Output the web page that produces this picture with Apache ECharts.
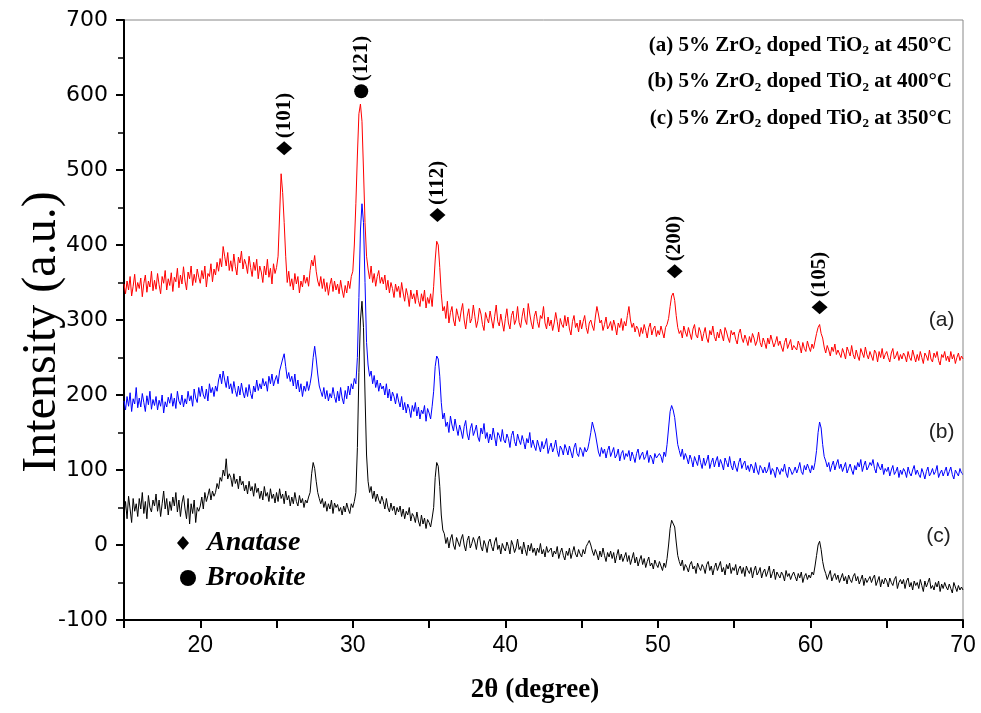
<!DOCTYPE html>
<html>
<head>
<meta charset="utf-8">
<script src="https://cdn.jsdelivr.net/npm/echarts@6/dist/echarts.min.js"></script>
<style>html,body{margin:0;padding:0;background:#fff;}#c{width:981px;height:713px;}</style>
</head>
<body>
<div id="c"></div>
<script>
// 2θ grid: 15.0 to 70.0 in 0.1° steps (one row of 10 values per degree)
const thetaStart = 15, thetaStep = 0.1;

// (a) 5% ZrO2 doped TiO2 at 450°C
const seriesA = [
348,335,352,340,358,332,345,361,338,350,
342,356,331,349,360,337,352,344,365,339,
353,341,362,347,335,358,349,366,340,355,
346,363,338,357,351,369,343,360,348,371,
352,340,364,355,372,346,361,350,368,357,
349,366,355,372,344,362,358,375,351,368,
360,377,365,382,371,398,385,372,390,366,
379,365,388,371,360,384,376,392,368,381,
374,362,385,370,358,377,366,381,355,372,
364,350,372,360,381,357,369,348,375,362,
370,385,440,495,470,430,385,350,365,345,
355,340,362,348,358,336,352,344,360,349,
357,345,366,380,372,386,365,352,345,358,
342,355,338,350,333,347,356,338,352,340,
348,335,353,340,330,346,336,352,342,358,
365,400,455,520,575,588,565,500,430,385,
368,355,372,350,362,345,358,366,349,357,
348,360,340,353,336,350,342,330,348,338,
345,330,350,336,325,342,333,318,340,328,
335,322,340,326,318,335,325,340,316,330,
322,335,318,345,380,405,400,370,335,312,
318,302,325,296,310,318,300,292,315,306,
298,312,322,300,288,305,315,296,302,320,
305,290,299,316,308,294,286,310,302,296,
312,300,289,305,320,298,292,308,296,285,
302,315,296,288,306,312,294,300,318,297,
290,305,316,300,294,322,308,296,288,305,
312,298,290,306,302,318,296,288,304,292,
300,286,296,310,298,284,302,294,290,306,
292,304,288,280,298,306,290,296,284,300,
288,298,306,290,282,296,300,292,286,304,
318,308,296,300,286,294,304,288,292,298,
286,300,292,280,296,290,302,286,298,292,
306,318,300,290,296,284,292,288,278,290,
282,294,286,276,290,296,280,288,292,278,
286,280,292,284,276,290,294,302,318,332,
336,326,306,290,282,286,276,292,284,278,
290,282,274,288,294,280,276,290,284,272,
282,290,276,270,286,280,292,278,272,284,
276,288,280,272,290,284,276,270,286,280,
284,274,268,282,288,276,270,280,274,266,
278,270,282,276,266,272,284,270,264,276,
270,262,276,268,280,272,264,270,278,266,
272,264,258,270,276,262,268,274,260,266,
268,260,272,266,256,270,262,258,272,264,
258,268,262,272,282,290,294,282,276,264,
256,266,260,252,264,258,268,254,260,262,
250,262,256,248,264,258,252,266,254,248,
260,252,246,262,256,250,264,254,248,258,
252,246,260,256,244,258,250,262,248,254,
258,250,244,256,262,248,252,258,246,254,
248,256,252,244,258,250,246,260,252,244,
254,246,258,250,242,256,252,246,260,248,
244,256,250,258,246,240,254,250,258,246,
252,244,258,248,254,242,250,256,246,252,
248
];

// (b) 5% ZrO2 doped TiO2 at 400°C
const seriesB = [
192,180,198,185,203,178,195,188,210,183,
196,184,202,190,178,199,187,205,181,194,
186,198,180,193,185,200,176,191,184,197,
189,202,185,196,182,205,192,187,200,184,
195,188,205,192,199,185,208,196,190,210,
198,212,200,195,208,192,215,203,210,198,
212,205,220,228,215,232,220,210,225,208,
215,202,218,206,198,212,200,216,204,196,
210,198,214,202,195,212,204,220,206,215,
208,222,212,218,205,225,215,228,212,220,
226,215,232,240,248,255,238,222,230,218,
225,212,228,208,220,204,215,198,212,205,
218,206,215,228,250,265,248,228,212,205,
198,210,195,206,192,202,196,210,198,190,
205,192,210,196,188,206,195,212,200,215,
208,222,215,250,330,420,455,430,350,270,
240,225,232,215,226,210,220,205,216,208,
212,200,215,196,208,192,204,198,188,202,
192,184,198,180,190,176,188,182,170,186,
178,190,172,184,168,180,175,186,165,182,
176,168,185,205,238,252,248,225,190,168,
176,158,164,150,172,160,152,168,156,146,
160,152,142,158,166,148,140,155,162,146,
152,160,144,138,156,148,162,142,150,136,
148,140,156,144,132,150,146,138,154,140,
136,148,142,130,146,152,138,132,148,140,
134,146,138,128,142,136,150,130,140,132,
126,140,132,124,138,128,134,142,122,130,
136,124,130,140,126,118,132,128,120,134,
128,120,132,124,116,130,136,122,118,130,
126,118,130,124,128,138,150,164,166,148,
136,124,118,130,122,128,116,126,132,118,
124,130,116,120,128,112,122,126,114,122,
118,126,112,124,118,110,122,128,114,120,
124,114,118,126,110,120,116,108,122,116,
114,122,118,110,124,118,134,156,178,186,
180,170,152,134,126,118,128,114,122,116,
108,120,114,104,118,112,106,120,110,102,
116,106,112,120,102,110,116,104,112,118,
104,114,108,100,116,110,104,118,106,100,
112,104,98,110,116,102,108,112,100,106,
98,108,104,96,110,100,94,106,102,96,
104,96,100,110,94,102,98,90,104,100,
94,102,98,108,96,90,104,100,94,98,
104,96,102,110,98,94,106,100,108,102,
96,106,100,110,126,150,164,156,134,118,
112,104,110,98,106,112,100,108,114,102,
108,98,104,110,96,102,108,100,94,106,
100,110,104,114,98,106,112,100,104,110,
106,114,102,96,110,104,100,108,94,102,
98,104,92,100,106,94,98,104,90,100,
94,102,98,90,104,96,92,100,106,94,
100,94,90,102,96,88,98,104,92,96,
102,94,98,106,90,96,100,92,98,104,
92,98,104,94,88,100,96,92,102,96,
94
];

// (c) 5% ZrO2 doped TiO2 at 350°C
const seriesC = [
40,58,35,65,48,30,62,45,55,38,
62,48,70,42,58,35,66,50,44,60,
52,68,45,60,38,55,72,48,62,40,
58,46,64,52,70,44,60,38,56,66,
48,35,62,28,55,42,60,30,50,45,
52,64,48,70,58,66,75,60,72,65,
70,82,75,90,85,100,92,115,88,95,
90,78,95,82,88,75,92,80,85,72,
80,68,85,72,78,65,82,70,76,62,
72,60,78,65,70,58,75,62,68,56,
70,58,75,62,68,55,72,60,66,52,
64,55,70,58,52,66,56,62,50,60,
56,64,70,95,110,102,85,70,62,55,
62,50,58,45,55,48,60,42,56,50,
54,45,50,40,52,44,56,48,42,55,
50,58,70,130,230,300,325,290,200,120,
85,70,78,62,72,58,68,60,55,65,
58,48,62,50,44,56,46,52,40,50,
44,52,38,48,35,45,40,50,32,42,
38,30,44,32,25,40,28,36,22,34,
30,24,36,50,90,110,105,78,40,20,
15,2,10,-4,8,14,0,-6,10,4,
-2,8,14,0,-8,6,12,-4,2,10,
4,-6,8,12,-2,-8,6,0,-10,4,
8,-2,-8,4,10,-6,0,-12,2,-4,
-8,4,-2,-12,6,0,-10,-4,8,-6,
-2,-12,4,-6,-14,0,-8,2,-10,-4,
-14,-4,-10,2,-12,-6,-16,-2,-10,-8,
-4,-16,-8,-12,-2,-18,-10,-4,-14,-20,
-8,-14,-4,-18,-10,-2,-12,-16,-6,-12,
-16,-6,-12,-2,2,6,0,-8,-14,-6,
-12,-20,-8,-16,-4,-14,-22,-10,-16,-8,
-18,-10,-24,-14,-6,-20,-12,-22,-16,-10,
-22,-14,-26,-18,-10,-24,-16,-28,-20,-14,
-26,-18,-30,-22,-16,-28,-24,-32,-20,-26,
-30,-22,-28,-34,-24,-30,-18,0,22,33,
34,24,4,-14,-22,-28,-20,-34,-26,-30,
-36,-26,-22,-32,-28,-38,-24,-30,-34,-26,
-30,-38,-26,-22,-34,-28,-40,-30,-24,-34,
-28,-22,-36,-30,-40,-26,-32,-24,-38,-30,
-34,-26,-40,-32,-28,-38,-30,-42,-28,-34,
-38,-30,-44,-34,-28,-40,-36,-30,-44,-36,
-32,-42,-36,-28,-44,-38,-32,-46,-36,-40,
-44,-36,-40,-48,-34,-42,-38,-46,-40,-36,
-42,-48,-38,-44,-36,-50,-42,-38,-46,-40,
-44,-36,-40,-28,-14,0,5,-6,-22,-32,
-38,-46,-40,-34,-48,-42,-38,-46,-40,-50,
-44,-38,-48,-42,-52,-40,-46,-50,-42,-38,
-48,-42,-52,-46,-40,-54,-44,-50,-46,-42,
-50,-44,-40,-54,-48,-42,-56,-46,-52,-44,
-48,-56,-44,-50,-54,-46,-42,-58,-50,-46,
-52,-46,-58,-48,-44,-56,-50,-60,-48,-54,
-50,-58,-46,-54,-62,-48,-56,-50,-44,-58,
-54,-60,-50,-56,-48,-62,-52,-58,-50,-56,
-60,-52,-58,-64,-50,-56,-62,-54,-60,-56,
-60
];

// Peak annotations
const peakTheta = [25.5, 30.55, 35.55, 51.1, 60.6];
const peakMarkY = [529, 605, 440, 365, 317];
const peakHkl = ['(101)', '(121)', '(112)', '(200)', '(105)'];
const peakPhase = ['Anatase', 'Brookite', 'Anatase', 'Anatase', 'Anatase'];

const yTicks = [-100, 0, 100, 200, 300, 400, 500, 600, 700];
const xTicks = [20, 30, 40, 50, 60, 70];

const legendLines = [
  '(a) 5% ZrO{s|2} doped TiO{s|2} at 450°C',
  '(b) 5% ZrO{s|2} doped TiO{s|2} at 400°C',
  '(c) 5% ZrO{s|2} doped TiO{s|2} at 350°C'
];
const curveTags = ['(a)', '(b)', '(c)'];
const curveTagPos = [[68.6, 300], [68.6, 150], [68.4, 12]];

const twoTheta = seriesA.map((_, i) => Math.round((thetaStart + i * thetaStep) * 10) / 10);
const pairs = arr => arr.map((v, i) => [twoTheta[i], v]);

const serif = "'Liberation Serif', 'Times New Roman', serif";

const peakData = peakTheta.map((t, i) => ({
  value: [t, peakMarkY[i]],
  symbol: peakPhase[i] === 'Anatase' ? 'diamond' : 'circle',
  symbolSize: peakPhase[i] === 'Anatase' ? [16, 14] : [14, 14],
  label: { formatter: peakHkl[i] }
}));

const chart = echarts.init(document.getElementById('c'), null, { renderer: 'canvas' });

const graphics = [];
legendLines.forEach((t, i) => {
  graphics.push({
    type: 'text', right: 29, top: 35 + i * 36.5, silent: true,
    style: {
      text: t, fill: '#000',
      font: "bold 21px " + serif,
      rich: { s: { fontSize: 13, fontWeight: 'bold', fontFamily: serif, padding: [11, 0, 0, 0] } }
    }
  });
});
// phase key (bottom-left)
graphics.push({ type: 'polygon', shape: { points: [[183, 536], [189, 543], [183, 550], [177, 543]] }, style: { fill: '#000' }, silent: true });
graphics.push({ type: 'circle', shape: { cx: 188, cy: 578, r: 8 }, style: { fill: '#000' }, silent: true });
graphics.push({ type: 'text', x: 207, y: 543, silent: true, style: { text: 'Anatase', font: "italic bold 28px " + serif, fill: '#000', verticalAlign: 'middle' } });
graphics.push({ type: 'text', x: 206, y: 578, silent: true, style: { text: 'Brookite', font: "italic bold 28px " + serif, fill: '#000', verticalAlign: 'middle' } });
// axis titles
graphics.push({ type: 'text', x: 535, y: 690, silent: true, style: { text: '2θ (degree)', font: "bold 27px " + serif, fill: '#000', align: 'center', verticalAlign: 'middle' } });
graphics.push({ type: 'text', x: 42, y: 332, rotation: Math.PI / 2, silent: true, style: { text: 'Intensity (a.u.)', font: "normal 48px " + serif, fill: '#000', align: 'center', verticalAlign: 'middle' } });

const lineSeries = (name, arr, color) => ({
  name, type: 'line', data: pairs(arr), showSymbol: false, symbol: 'none',
  lineStyle: { color, width: 1 }, animation: false, z: 2
});

chart.setOption({
  backgroundColor: '#fff',
  animation: false,
  grid: { left: 124, right: 18, top: 20, bottom: 93, show: true, borderColor: '#888', borderWidth: 1 },
  xAxis: {
    type: 'value', min: 15, max: 70, interval: 5,
    axisLine: { show: true, onZero: false, lineStyle: { color: '#000', width: 2 } },
    axisTick: { show: true, inside: false, length: 8, lineStyle: { color: '#000', width: 2 } },
    axisLabel: {
      margin: 14, color: '#000', fontSize: 23,
      fontFamily: "'Liberation Sans Narrow', 'Liberation Sans', Arial, sans-serif",
      formatter: v => (xTicks.indexOf(v) >= 0 ? String(v) : '')
    },
    splitLine: { show: false }
  },
  yAxis: {
    type: 'value', min: -100, max: 700, interval: 100,
    axisLine: { show: true, onZero: false, lineStyle: { color: '#000', width: 2 } },
    axisTick: { show: true, inside: false, length: 8, lineStyle: { color: '#000', width: 2 } },
    minorTick: { show: true, splitNumber: 2, length: 6, lineStyle: { color: '#000', width: 1.5 } },
    axisLabel: {
      margin: 16, color: '#000', fontSize: 22, fontFamily: "'DejaVu Sans', sans-serif",
      formatter: v => (yTicks.indexOf(v) >= 0 ? String(v) : '')
    },
    splitLine: { show: false }
  },
  series: [
    lineSeries('a', seriesA, '#ff0000'),
    lineSeries('b', seriesB, '#0000ff'),
    lineSeries('c', seriesC, '#000000'),
    {
      type: 'scatter', data: peakData, itemStyle: { color: '#000', opacity: 1 }, z: 5, animation: false,
      label: {
        show: true, position: 'top', distance: 3, rotate: 90, align: 'left', verticalAlign: 'middle',
        color: '#000', fontSize: 21, fontWeight: 'bold', fontFamily: serif
      }
    },
    {
      type: 'scatter', symbolSize: 0, animation: false, silent: true, itemStyle: { opacity: 1 },
      data: curveTagPos.map((p, i) => ({ value: p, label: { formatter: curveTags[i] } })),
      label: { show: true, position: 'inside', color: '#222', fontSize: 21, fontFamily: "'Liberation Sans', Arial, sans-serif" }
    }
  ],
  graphic: graphics
});
</script>
</body>
</html>
